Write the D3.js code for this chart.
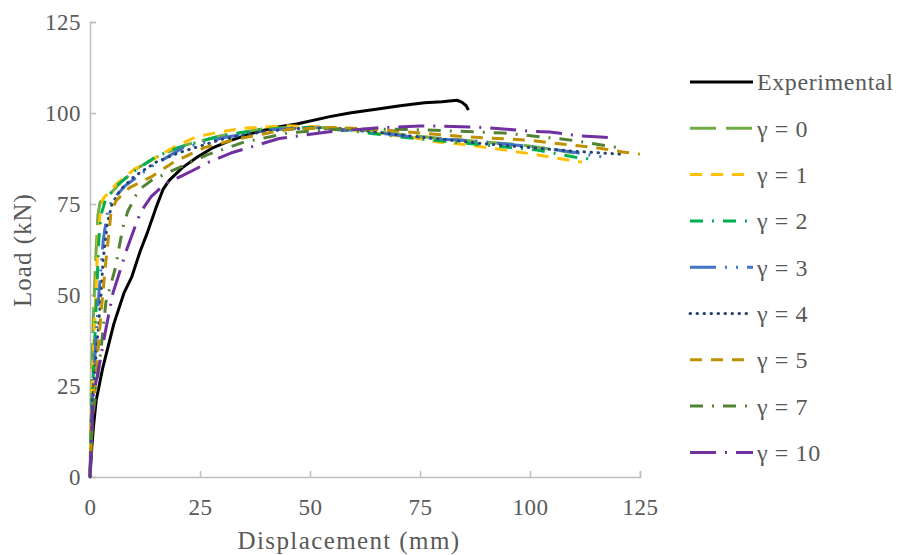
<!DOCTYPE html>
<html>
<head>
<meta charset="utf-8">
<title>Load vs Displacement</title>
<script src="https://d3js.org/d3.v7.min.js"></script>
<style>
body { margin: 0; background: #fff; }
text { font-family: "Liberation Serif", "DejaVu Serif", serif; fill: #595959; }
</style>
</head>
<body>
<script>
// width and height of the picture
var width = 899;
var height = 555;

// [displacement (mm), load (kN)]
var experimental = [[0,0],[0.4,8],[0.8,14],[1.4,21],[2.9,30],[5.4,42],[7.7,50.5],[9.5,55],[11.4,62],[13,67],[15,74],[16.6,79],[18,81.5],[21,85],[24.5,88],[28,90.5],[32,92.5],[37,94.5],[42,96],[47,97],[54.5,99],[59,100],[65,101],[70.5,102],[76,102.8],[80,103.1],[83.4,103.5],[84.5,103],[85.5,102],[86,100.8]];
var gamma0 = [[0,0],[0.3,25],[0.8,45],[1.3,60],[1.8,72],[2.3,75.5],[4,77],[7,81],[11,85],[16,88.5],[22,91.3],[30,93.8],[40,95.8],[50,96.2],[60,95.5],[70,94.2],[80,93],[90,92],[97.7,91.3],[105,90],[110,89]];
var gamma1 = [[0,0],[0.3,20],[0.8,35],[1.3,50],[1.8,65],[2.3,72],[3,76.5],[6,80.5],[10,84.5],[14.8,87.6],[19,90.6],[24,93.4],[29.5,94.8],[35.7,95.9],[45,96.5],[55,96],[62,95],[68,94],[73,93.4],[79,92],[84,91.5],[91,90.4],[95.5,89.6],[100.7,88.7],[106,87.6],[111.8,86.5]];
var gamma2 = [[0,0],[0.4,20],[1,35],[1.5,50],[2,65],[2.5,72],[3.5,76],[6,80],[10,84],[15,88],[20,90.5],[30,93.8],[40,95.6],[50,96],[60,95],[70,93.5],[80,92.3],[90,91.2],[101.6,89.8],[110,87.9],[113.6,87.4]];
var gamma3 = [[0,0],[0.5,20],[1.2,35],[2,50],[3,65],[4,73],[5,76],[8,80],[13.6,85],[21,90.4],[31,93.4],[42,95.5],[52,96],[62,95],[72,93.6],[80,92.8],[88.6,92.2],[96,91.3],[103,90.4],[110,89.2],[116.6,87.9]];
var gamma4 = [[0,0],[0.5,20],[1.5,35],[2.5,50],[3,60],[4,70],[5,75],[7,79],[10,82.5],[15,86.5],[20,89],[30,92.8],[40,95],[50,96],[60,95.5],[70,94],[80,92.8],[90,91.5],[100,90.5],[110,89.5],[120.5,88.7]];
var gamma5 = [[0,0],[0.5,15],[1.5,30],[2.5,45],[3.5,58],[4.3,67],[4.8,73],[6,76],[9,79.5],[14,82.5],[19,86.5],[26,90.5],[34,93],[45,95.5],[55,96],[65,95.5],[75,94.5],[85,93.5],[99,92.6],[105,91.8],[115.5,90.4],[121,89.3],[125,88.7]];
var gamma7 = [[0,0],[0.5,15],[1.5,25],[2.5,35],[3.6,48],[5.9,58],[6.6,63],[7.5,68.7],[8.6,73],[10.5,77.5],[12,79.7],[14,81.5],[17.5,83.5],[26.6,88.5],[35,92],[45,94.5],[55,95.5],[65,95.6],[75,95.4],[83.4,95],[94,94.5],[100.6,93.7],[109,92.6],[120,90.5]];
var gamma10 = [[0,0],[0.7,22],[2,30],[3.5,40],[5.2,50.5],[6.4,55],[8.2,62],[10,68],[11.6,73],[13.9,77],[17,80.5],[22.7,83.8],[27,86.5],[32,89],[43,93],[54,94.8],[65,95.9],[75,96.4],[80,96.4],[90,96],[100,95],[104.5,94.8],[110.6,93.8],[116,93.4],[119.3,93.1]];

var seriesNames = ["Experimental", "\u03b3 = 0", "\u03b3 = 1", "\u03b3 = 2", "\u03b3 = 3", "\u03b3 = 4", "\u03b3 = 5", "\u03b3 = 7", "\u03b3 = 10"];
var seriesData = [experimental, gamma0, gamma1, gamma2, gamma3, gamma4, gamma5, gamma7, gamma10];
var xTicks = [0, 25, 50, 75, 100, 125];
var yTicks = [0, 25, 50, 75, 100, 125];

// line looks, one per series
var colors = ["#000000", "#70ad47", "#ffc000", "#00b050", "#4472c4", "#264478", "#bf9000", "#548235", "#7030a0"];
var dashes = ["none", "26,10", "12,9", "13,9,2,9", "26,9,2,9,2,9", "0.5,6.5", "12,9", "13,9,2,9", "26,9,2,9"];

var margin = {left: 90, right: 259, top: 22, bottom: 78};
var x = d3.scaleLinear().domain([0, 125]).range([margin.left, width - margin.right]);
var y = d3.scaleLinear().domain([0, 125]).range([height - margin.bottom, margin.top]);

var svg = d3.select("body").append("svg")
  .attr("width", width)
  .attr("height", height);

// axes, ticks pointing inside like the original
var xAxis = svg.append("g")
  .attr("transform", "translate(0," + y(0) + ")")
  .call(d3.axisBottom(x).tickValues(xTicks).tickSizeInner(-6).tickSizeOuter(-6).tickPadding(21));
var yAxis = svg.append("g")
  .attr("transform", "translate(" + x(0) + ",0)")
  .call(d3.axisLeft(y).tickValues(yTicks).tickSizeInner(-6).tickSizeOuter(-6).tickPadding(9));

svg.selectAll(".domain, .tick line").attr("stroke", "#bfbfbf").attr("stroke-width", 1.5);
svg.selectAll(".tick text")
  .attr("font-family", "Liberation Serif, serif")
  .attr("font-size", 23)
  .attr("letter-spacing", 0.5)
  .attr("fill", "#595959");
xAxis.selectAll(".tick text").attr("dy", "0.72em");

// axis titles
svg.append("text")
  .attr("x", 349)
  .attr("y", 549)
  .attr("text-anchor", "middle")
  .attr("font-size", 25)
  .attr("letter-spacing", 1.4)
  .text("Displacement (mm)");
svg.append("text")
  .attr("transform", "translate(31,250) rotate(-90)")
  .attr("text-anchor", "middle")
  .attr("font-size", 25)
  .attr("letter-spacing", 1)
  .text("Load (kN)");

// the curves
var line = d3.line()
  .x(function(d) { return x(d[0]); })
  .y(function(d) { return y(d[1]); });

svg.append("g").selectAll("path")
  .data(seriesData)
  .enter()
  .append("path")
  .attr("d", line)
  .attr("fill", "none")
  .attr("stroke", function(d, i) { return colors[i]; })
  .attr("stroke-width", 3)
  .attr("stroke-dasharray", function(d, i) { return dashes[i]; })
  .attr("stroke-linecap", function(d, i) { return i == 5 ? "round" : "butt"; })
  .attr("stroke-linejoin", "round");

// legend
var legend = svg.append("g").selectAll("g")
  .data(seriesNames)
  .enter()
  .append("g")
  .attr("transform", function(d, i) { return "translate(690," + (82 + i * 46.3) + ")"; });

legend.append("line")
  .attr("x1", 0).attr("x2", 63)
  .attr("stroke", function(d, i) { return colors[i]; })
  .attr("stroke-width", 3)
  .attr("stroke-dasharray", function(d, i) { return dashes[i]; })
  .attr("stroke-linecap", function(d, i) { return i == 5 ? "round" : "butt"; });

legend.append("text")
  .attr("x", 67)
  .attr("dy", "0.35em")
  .attr("font-size", 24)
  .attr("letter-spacing", 0.6)
  .text(function(d) { return d; });
</script>
</body>
</html>
